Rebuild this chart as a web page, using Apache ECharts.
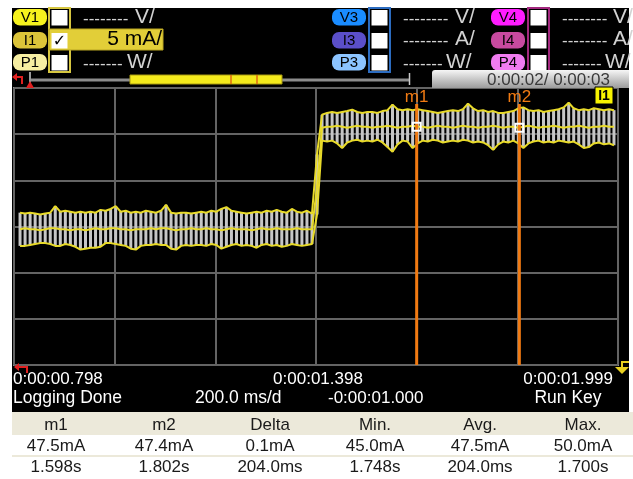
<!DOCTYPE html>
<html>
<head>
<meta charset="utf-8">
<script src="https://cdn.jsdelivr.net/npm/echarts@6/dist/echarts.min.js"></script>
<style>
  html, body { margin: 0; padding: 0; background: #fff; }
  #chart { width: 633px; height: 479px; }
</style>
</head>
<body>
<div id="chart"></div>
<script>
// ---- Logged trace of channel I1 (one envelope sample every 10 ms) ----
const sampleStart = 0.81;   // s
const sampleStep = 0.01;    // s

// Highest reading in each sample (mA)
const currentMax = [
  38.2, 38.1, 38.2, 38.1, 38.0, 38.1, 38.2, 38.9, 38.3, 38.4,
  38.3, 38.2, 38.3, 38.2, 38.3, 38.2, 38.5, 38.4, 38.6, 38.9,
  38.3, 38.4, 38.2, 38.3, 38.2, 38.4, 38.3, 38.2, 38.4, 39.05,
  38.2, 38.1, 38.2, 38.2, 38.1, 38.2, 38.3, 38.2, 38.4, 38.3,
  38.6, 38.8, 38.4, 38.3, 38.2, 38.1, 38.2, 38.3, 38.2, 38.4,
  38.3, 38.5, 38.3, 38.2, 38.6, 38.3, 38.2, 38.4, 38.1, 44.5,
  48.8, 49.0, 49.1, 49.0, 49.1, 49.2, 49.35, 49.1, 49.0, 49.1,
  49.1, 49.0, 49.2, 49.3, 49.9, 49.4, 49.3, 49.4, 49.3, 49.4,
  49.3, 49.2, 49.1, 49.0, 49.1, 49.2, 49.3, 49.2, 49.4, 50.0,
  49.5, 49.2, 49.3, 49.1, 49.2, 49.0, 49.0, 49.1, 49.2, 49.5,
  49.6, 49.3, 49.2, 49.3, 49.1, 49.2, 49.3, 49.4, 49.6, 50.1,
  49.5, 49.3, 49.4, 49.3, 49.5, 49.4, 49.3, 49.4, 49.3
];

// Lowest reading in each sample (mA)
const currentMin = [
  34.6, 34.6, 34.7, 34.8, 34.9, 34.9, 34.8, 34.6, 34.6, 34.8,
  34.7, 34.5, 34.2, 34.3, 34.4, 34.4, 34.5, 34.9, 34.9, 34.8,
  34.7, 34.6, 34.3, 34.2, 34.6, 34.7, 34.7, 34.8, 34.7, 34.7,
  34.3, 34.2, 34.6, 34.7, 34.6, 34.7, 34.7, 34.6, 34.8, 34.7,
  34.3, 34.5, 34.7, 34.8, 34.6, 34.7, 34.6, 34.4, 34.7, 34.8,
  34.6, 34.7, 34.5, 34.6, 34.8, 34.7, 34.6, 34.7, 34.8, 38.0,
  46.0, 45.9, 46.0, 45.7, 45.2, 45.8, 46.0, 46.1, 45.9, 46.0,
  45.9, 46.1, 45.8, 45.3, 44.8, 45.6, 46.0, 45.9, 45.2, 45.7,
  46.0, 45.9, 46.1, 46.0, 45.8, 45.9, 46.0, 45.9, 46.1, 46.0,
  45.8, 45.9, 45.8, 45.5, 45.0, 45.6, 45.9, 45.8, 46.0, 45.7,
  45.2, 45.7, 45.9, 46.0, 45.8, 45.9, 45.8, 46.0, 45.9, 45.8,
  45.9, 45.6, 45.2, 45.3, 45.7, 45.8, 45.6, 45.7, 45.5
];

// Mean reading in each sample (mA)
const currentAvg = [
  36.4, 36.5, 36.4, 36.4, 36.3, 36.4, 36.5, 36.5, 36.4, 36.4,
  36.3, 36.4, 36.4, 36.3, 36.4, 36.5, 36.4, 36.4, 36.5, 36.5,
  36.4, 36.4, 36.3, 36.4, 36.4, 36.4, 36.5, 36.4, 36.5, 36.5,
  36.4, 36.3, 36.4, 36.4, 36.5, 36.4, 36.4, 36.5, 36.4, 36.4,
  36.3, 36.4, 36.5, 36.4, 36.4, 36.4, 36.3, 36.4, 36.5, 36.4,
  36.4, 36.5, 36.4, 36.4, 36.4, 36.5, 36.4, 36.4, 36.4, 41.0,
  47.4, 47.5, 47.5, 47.6, 47.5, 47.4, 47.5, 47.6, 47.5, 47.5,
  47.4, 47.5, 47.5, 47.6, 47.5, 47.4, 47.5, 47.5, 47.6, 47.5,
  47.5, 47.4, 47.5, 47.6, 47.5, 47.5, 47.4, 47.5, 47.6, 47.5,
  47.5, 47.4, 47.5, 47.5, 47.6, 47.5, 47.4, 47.5, 47.5, 47.4,
  47.5, 47.6, 47.5, 47.4, 47.5, 47.5, 47.6, 47.5, 47.4, 47.5,
  47.5, 47.6, 47.5, 47.4, 47.5, 47.5, 47.6, 47.5, 47.5
];

// ---- Axes: 200 ms/div horizontally, 5 mA/div vertically, 6 divisions each ----
const timeAxisMin = 0.798;
const timeAxisMax = 1.998;
const currentAxisMin = 21.7;
const currentAxisMax = 51.7;
const divisions = 6;

// ---- Markers ----
const markerNames = ['m1', 'm2'];
const markerTimes = [1.598, 1.802];
const markerValues = [47.5, 47.4];

// ---- Readouts ----
const timeReadouts = ['0:00:00.798', '0:00:01.398', '0:00:01.999'];
const statusTexts = ['Logging Done', '200.0 ms/d', '-0:00:01.000', 'Run Key'];
const scrollReadout = '0:00:02/ 0:00:03';
const tableHeaders = ['m1', 'm2', 'Delta', 'Min.', 'Avg.', 'Max.'];
const tableValues = ['47.5mA', '47.4mA', '0.1mA', '45.0mA', '47.5mA', '50.0mA'];
const tableTimes = ['1.598s', '1.802s', '204.0ms', '1.748s', '204.0ms', '1.700s'];

// ---- Channel header ----
const channelLabels = [['V1', 'I1', 'P1'], ['V3', 'I3', 'P3'], ['V4', 'I4', 'P4']];
const channelScales = [['--------', '5 mA/', '-------'], ['--------', '--------', '-------'], ['--------', '--------', '-------']];
const channelUnits = [['V/', '', 'W/'], ['V/', 'A/', 'W/'], ['V/', 'A/', 'W/']];

// ------------------------------------------------------------------
const FONT = '"Liberation Sans", Arial, sans-serif';
const YELLOW = '#e8da2a';
const ORANGE = '#f07a12';

const samples = currentMax.map((mx, i) => [
  +(sampleStart + i * sampleStep).toFixed(3), currentMin[i], mx, currentAvg[i]
]);

// text placed by its baseline
function text(str, x, baseline, size, fill, align, opts) {
  opts = opts || {};
  return {
    type: 'text', x: x, y: baseline - 0.35 * size, silent: true, z: opts.z || 20,
    style: {
      text: str, fill: fill,
      font: (opts.weight ? opts.weight + ' ' : '') + size + 'px ' + (opts.family || FONT),
      align: align || 'left', verticalAlign: 'middle'
    }
  };
}
function rect(x, y, w, h, style, r, z) {
  return { type: 'rect', silent: true, z: z === undefined ? 10 : z, shape: { x: x, y: y, width: w, height: h, r: r || 0 }, style: style };
}
function poly(points, style, closed, z) {
  return { type: closed ? 'polygon' : 'polyline', silent: true, z: z === undefined ? 20 : z, shape: { points: points }, style: style };
}

const graphics = [];
// instrument screen
graphics.push(rect(12, 8, 617, 404, { fill: '#000' }, 0, -10));

// channel header blocks
const groupLayout = [
  { pill: 13, box: 49, frame: '#d6c640', dash: 83, unit: [135, 0, 127], colors: ['#f6f21e', '#dcc43a', '#f6eea2'] },
  { pill: 332, box: 369, frame: '#2c6cc0', dash: 403, unit: [455, 455, 446], colors: ['#1a8cff', '#5b4fc9', '#8cc4ff'] },
  { pill: 491, box: 528, frame: '#a2287e', dash: 562, unit: [613, 613, 605], colors: ['#ff1cff', '#c84aa0', '#f07cf0'] }
];
const rowTop = [9, 32, 54];
const rowBase = [25, 47, 70];
groupLayout.forEach((g, gi) => {
  graphics.push(rect(g.box, 8, 21, 64, { fill: '#000', stroke: g.frame, lineWidth: 2 }, 0, 10));
  for (let r = 0; r < 3; r++) {
    const active = gi === 0 && r === 1;
    if (active) {
      graphics.push(rect(g.box, 29, 114, 21, { fill: '#e2ce38', stroke: '#b8a420', lineWidth: 1 }, 0, 11));
    }
    graphics.push(rect(g.pill, rowTop[r], 34, 16.5, { fill: g.colors[r] }, 7, 12));
    graphics.push(text(channelLabels[gi][r], g.pill + 17, rowTop[r] + 14, 15, '#000', 'center'));
    graphics.push(rect(g.box + 2.5, rowTop[r] + 1, 16, 15.5, { fill: '#fff' }, 0, 12));
    if (active) {
      graphics.push(text('\u2713', g.box + 10.5, rowTop[r] + 15, 16, '#000', 'center', { weight: 'bold', family: '"DejaVu Sans"' }));
      graphics.push(text(channelScales[gi][r], 162, rowBase[r], 21, '#000', 'right'));
    } else {
      graphics.push(text(channelScales[gi][r], g.dash, rowBase[r], 17, '#d2d2d2', 'left'));
      graphics.push(text(channelUnits[gi][r], g.unit[r], rowBase[r], 21, '#d2d2d2', 'left'));
    }
  }
});

// scroll bar row
graphics.push(poly([[22, 84], [22, 77], [16, 77]], { stroke: '#e02020', lineWidth: 2, fill: null }));
graphics.push(poly([[12, 77], [17, 73], [17, 81]], { fill: '#e02020' }, true));
graphics.push(poly([[30, 72], [30, 84]], { stroke: '#9a9a9a', lineWidth: 2, fill: null }));
graphics.push(poly([[30, 81], [26, 88], [34, 88]], { fill: '#e02020' }, true, 21));
graphics.push(poly([[31, 80], [410, 80]], { stroke: '#8c8c8c', lineWidth: 3, fill: null }));
graphics.push(poly([[409.5, 73], [409.5, 85]], { stroke: '#c8c8c8', lineWidth: 1.5, fill: null }));
graphics.push(rect(130, 75, 152, 9, { fill: '#f4ea1c', stroke: '#a89a10', lineWidth: 1 }, 0, 20));
graphics.push(poly([[231, 75], [231, 84]], { stroke: '#e06a10', lineWidth: 1.5, fill: null }, false, 21));
graphics.push(poly([[257, 75], [257, 84]], { stroke: '#e06a10', lineWidth: 1.5, fill: null }, false, 21));
graphics.push(rect(432, 70, 197, 18, {
  fill: new echarts.graphic.LinearGradient(0, 0, 0, 1, [
    { offset: 0, color: '#f6f6f6' }, { offset: 1, color: '#9c9c9c' }
  ])
}, [3, 0, 0, 0], 15));
graphics.push(text(scrollReadout, 487, 86, 17, '#3a3a3a', 'left'));

// channel tag at the right of the plot
graphics.push(rect(595, 87, 18, 17, { fill: '#f8f400', stroke: '#000', lineWidth: 1 }, 0, 30));
graphics.push(text('I1', 604, 101, 14, '#000', 'center', { weight: 'bold', z: 31 }));

// plot corner tags
graphics.push(poly([[27, 373], [27, 367], [19, 367]], { stroke: '#e02020', lineWidth: 2, fill: null }, false, 30));
graphics.push(poly([[14, 367], [19, 363], [19, 371]], { fill: '#e02020' }, true, 30));
graphics.push(poly([[629, 362], [622, 362], [622, 367]], { stroke: '#e8d020', lineWidth: 2, fill: null }, false, 30));
graphics.push(poly([[615, 367], [629, 367], [622, 374]], { fill: '#e8d020' }, true, 30));

// time readouts under the plot
graphics.push(text(timeReadouts[0], 13, 385, 17, '#fff', 'left'));
graphics.push(text(timeReadouts[1], 318, 385, 17, '#fff', 'center'));
graphics.push(text(timeReadouts[2], 613, 385, 17, '#fff', 'right'));
graphics.push(text(statusTexts[0], 13, 404, 17.5, '#fff', 'left'));
graphics.push(text(statusTexts[1], 195, 404, 17.5, '#fff', 'left'));
graphics.push(text(statusTexts[2], 328, 404, 17, '#fff', 'left'));
graphics.push(text(statusTexts[3], 568, 404, 17.5, '#fff', 'center'));

// readout table
const colCenters = [56, 164, 270, 375, 480, 583];
graphics.push(rect(12, 412, 621, 23, { fill: '#ece9da' }, 0, 5));
graphics.push(rect(12, 455, 621, 2, { fill: '#ece9da' }, 0, 5));
colCenters.forEach((cx, i) => {
  graphics.push(text(tableHeaders[i], cx, 431, 17, '#1a1a1a', 'center'));
  graphics.push(text(tableValues[i], cx, 452, 17, '#1a1a1a', 'center'));
  graphics.push(text(tableTimes[i], cx, 473, 17, '#1a1a1a', 'center'));
});

const hiddenAxis = { axisLine: { show: false }, axisTick: { show: false }, axisLabel: { show: false } };
const graticule = { show: true, lineStyle: { color: '#646464', width: 2 } };

const option = {
  animation: false,
  backgroundColor: '#fff',
  grid: {
    left: 14, top: 88, width: 604, height: 277,
    show: true, backgroundColor: '#000', borderColor: '#8c8c8c', borderWidth: 2
  },
  xAxis: [
    Object.assign({ type: 'value', min: timeAxisMin, max: timeAxisMax, splitLine: { show: false } }, hiddenAxis),
    Object.assign({ type: 'value', min: 0, max: divisions, interval: 1, splitLine: graticule }, hiddenAxis)
  ],
  yAxis: [
    Object.assign({ type: 'value', min: currentAxisMin, max: currentAxisMax, splitLine: { show: false } }, hiddenAxis),
    Object.assign({ type: 'value', min: 0, max: divisions, interval: 1, splitLine: graticule }, hiddenAxis)
  ],
  graphic: { elements: graphics },
  series: [
    {
      // min..max span of each sample
      type: 'custom', silent: true, z: 2,
      data: samples,
      encode: { x: 0, y: [1, 2] },
      renderItem: function (params, api) {
        const t = api.value(0);
        const hi = api.coord([t, api.value(2)]);
        const lo = api.coord([t, api.value(1)]);
        return {
          type: 'rect',
          shape: { x: hi[0] - 1.5, y: hi[1], width: 3, height: lo[1] - hi[1] },
          style: { fill: '#c6c6c6' }
        };
      }
    },
    {
      type: 'line', silent: true, z: 3, symbol: 'none',
      data: samples.map(s => [s[0], s[2]]),
      lineStyle: { color: YELLOW, width: 2 }
    },
    {
      type: 'line', silent: true, z: 3, symbol: 'none',
      data: samples.map(s => [s[0], s[1]]),
      lineStyle: { color: YELLOW, width: 2 }
    },
    {
      type: 'line', silent: true, z: 3, symbol: 'none',
      data: samples.map(s => [s[0], s[3]]),
      lineStyle: { color: YELLOW, width: 2 }
    },
    {
      // cursors m1 / m2
      type: 'custom', silent: true, z: 5,
      data: markerTimes.map((t, i) => [t, markerValues[i]]),
      encode: { x: 0, y: 1 },
      renderItem: function (params, api) {
        const p = api.coord([api.value(0), api.value(1)]);
        const cs = params.coordSys;
        return {
          type: 'group',
          children: [
            { type: 'line', shape: { x1: p[0], y1: cs.y + 16, x2: p[0], y2: cs.y + cs.height }, style: { stroke: ORANGE, lineWidth: 3 } },
            { type: 'text', x: p[0], y: cs.y + 15 - 0.35 * 17, style: { text: markerNames[params.dataIndex], fill: ORANGE, font: '17px ' + FONT, align: 'center', verticalAlign: 'middle' } },
            { type: 'rect', shape: { x: p[0] - 4, y: p[1] - 4, width: 8, height: 8 }, style: { fill: null, stroke: '#fff', lineWidth: 2 } }
          ]
        };
      }
    }
  ]
};

const chart = echarts.init(document.getElementById('chart'), null, { renderer: 'canvas' });
chart.setOption(option);
</script>
</body>
</html>
